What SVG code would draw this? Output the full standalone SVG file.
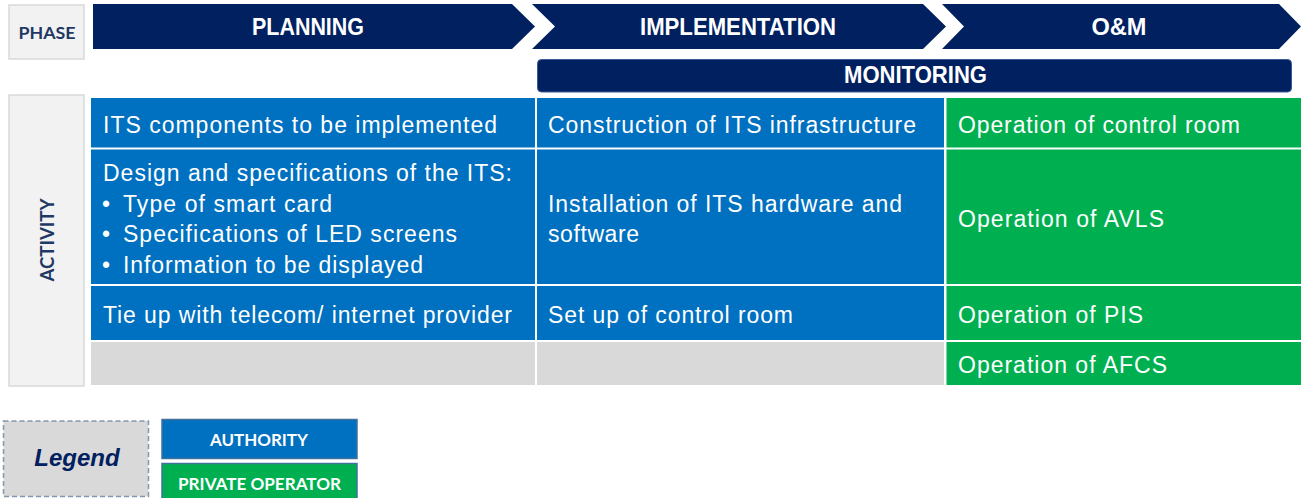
<svg xmlns="http://www.w3.org/2000/svg" width="1301" height="498" viewBox="0 0 1301 498">
<style>
.hdr{font-family:"Liberation Sans",Arial,sans-serif;font-weight:bold;font-size:23px;fill:#fff;text-anchor:middle}
.cell{font-family:"Liberation Sans",Arial,sans-serif;font-size:23px;fill:#fff}
.blue{fill:#0070C0}
.green{fill:#00B050}
.grey{fill:#D9D9D9}
.navy{fill:#002060}
.side{fill:#F2F2F2;stroke:#D9D9D9;stroke-width:1.5}
.side-t{font-family:Lato,"Liberation Sans",sans-serif;font-weight:bold;fill:#1F3864;text-anchor:middle}
.leg-t{font-family:Lato,"Liberation Sans",sans-serif;font-weight:bold;font-size:17px;fill:#fff;text-anchor:middle}
</style>
<rect width="1301" height="498" fill="#fff"/>
<g id="phase-label">
<rect class="side" x="9" y="5" width="75" height="54"/>
<text class="side-t" x="47" y="39" font-size="17.5" textLength="57" lengthAdjust="spacingAndGlyphs">PHASE</text>
</g>
<g id="planning">
<polygon class="navy" points="93,4 512,4 535,26.5 512,49 93,49"/>
<text class="hdr" x="308" y="34.5" textLength="112" lengthAdjust="spacingAndGlyphs">PLANNING</text>
</g>
<g id="implementation">
<polygon class="navy" points="532,4 923,4 946,26.5 923,49 532,49 555,26.5"/>
<text class="hdr" x="738" y="34.5" textLength="196" lengthAdjust="spacingAndGlyphs">IMPLEMENTATION</text>
</g>
<g id="om">
<polygon class="navy" points="942,4 1279,4 1301,26.5 1279,49 942,49 964,26.5"/>
<text class="hdr" x="1119" y="34.5" textLength="55" lengthAdjust="spacingAndGlyphs">O&amp;M</text>
</g>
<g id="monitoring">
<rect x="537.5" y="59.5" width="754" height="32.5" rx="4" fill="#002060" stroke="#3A5A98" stroke-width="1"/>
<text class="hdr" x="915.5" y="83" font-size="22" textLength="143" lengthAdjust="spacingAndGlyphs">MONITORING</text>
</g>
<g id="activity-label">
<rect class="side" x="9" y="95" width="75" height="291"/>
<text class="side-t" font-size="19" transform="translate(54,240) rotate(-90)" textLength="83" lengthAdjust="spacingAndGlyphs">ACTIVITY</text>
</g>
<g id="r1c1"><rect class="blue" x="91" y="98" width="444" height="49.5"/><text class="cell" x="103" y="133.3" textLength="394">ITS components to be implemented</text></g>
<g id="r1c2"><rect class="blue" x="537" y="98" width="407" height="49.5"/><text class="cell" x="548" y="133.3" textLength="368">Construction of ITS infrastructure</text></g>
<g id="r1c3"><rect class="green" x="946.5" y="98" width="354.5" height="49.5"/><text class="cell" x="958" y="133.3" textLength="282">Operation of control room</text></g>
<g id="r2c1"><rect class="blue" x="91" y="149.5" width="444" height="134.5"/>
<text class="cell" x="103" y="180.7" textLength="409">Design and specifications of the ITS:</text>
<text class="cell" x="102" y="211.7">•</text><text class="cell" x="123" y="211.7" textLength="209">Type of smart card</text>
<text class="cell" x="102" y="241.7">•</text><text class="cell" x="123" y="241.7" textLength="334">Specifications of LED screens</text>
<text class="cell" x="102" y="272.7">•</text><text class="cell" x="123" y="272.7" textLength="300">Information to be displayed</text>
</g>
<g id="r2c2"><rect class="blue" x="537" y="149.5" width="407" height="134.5"/>
<text class="cell" x="548" y="211.7" textLength="354">Installation of ITS hardware and</text>
<text class="cell" x="548" y="241.7" textLength="91">software</text></g>
<g id="r2c3"><rect class="green" x="946.5" y="149.5" width="354.5" height="134.5"/><text class="cell" x="958" y="226.7" textLength="206">Operation of AVLS</text></g>
<g id="r3c1"><rect class="blue" x="91" y="286" width="444" height="54"/><text class="cell" x="103" y="323.3" textLength="409">Tie up with telecom/ internet provider</text></g>
<g id="r3c2"><rect class="blue" x="537" y="286" width="407" height="54"/><text class="cell" x="548" y="323.3" textLength="245">Set up of control room</text></g>
<g id="r3c3"><rect class="green" x="946.5" y="286" width="354.5" height="54"/><text class="cell" x="958" y="323.3" textLength="185">Operation of PIS</text></g>
<g id="r4c1"><rect class="grey" x="91" y="342" width="444" height="43"/></g>
<g id="r4c2"><rect class="grey" x="537" y="342" width="407" height="43"/></g>
<g id="r4c3"><rect class="green" x="946.5" y="342" width="354.5" height="43"/><text class="cell" x="958" y="373.3" textLength="209">Operation of AFCS</text></g>
<g id="connectors"></g>
<g id="legend">
<rect x="3.5" y="421" width="145" height="75.5" fill="#D9D9D9" stroke="#8497B0" stroke-width="1.5" stroke-dasharray="5,3"/>
<text x="77" y="466" font-family="'Liberation Sans',Arial,sans-serif" font-weight="bold" font-style="italic" font-size="24" fill="#002060" text-anchor="middle">Legend</text>
</g>
<g id="legend-authority">
<rect x="162" y="419.5" width="195" height="39" fill="#0070C0" stroke="#41719C" stroke-width="1.5"/>
<text class="leg-t" x="259" y="445.5" textLength="98" lengthAdjust="spacingAndGlyphs">AUTHORITY</text>
</g>
<g id="legend-private">
<rect x="162" y="463.5" width="195" height="36" fill="#00B050" stroke="#41719C" stroke-width="1.5"/>
<text class="leg-t" x="259.5" y="490" textLength="163" lengthAdjust="spacingAndGlyphs">PRIVATE OPERATOR</text>
</g>
</svg>
